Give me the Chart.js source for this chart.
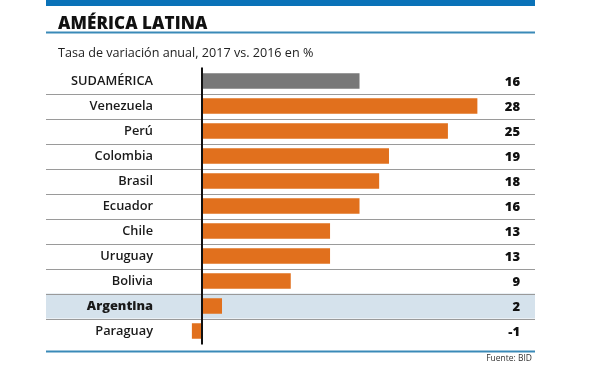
<!DOCTYPE html>
<html>
<head>
<meta charset="utf-8">
<script src="https://cdn.jsdelivr.net/npm/chart.js@4.4.1/dist/chart.umd.min.js"></script>
<style>
  html, body { margin: 0; padding: 0; background: #fff; }
  #wrap { position: relative; width: 600px; height: 365px; overflow: hidden; }
  #c { position: absolute; left: 0; top: 0; }
  .txt { position: absolute; font-family: "Open Sans", sans-serif; white-space: nowrap; }
  #title { left: 58px; top: 11px; font-size: 17px; font-weight: 800; color: #111; letter-spacing: 0.1px; }
  #sub { left: 58px; top: 44px; font-size: 12.6px; color: #222; }
  #src { right: 68px; top: 352px; font-size: 8.5px; color: #333; }
</style>
</head>
<body>
<div id="wrap">
  <canvas id="c" width="600" height="365"></canvas>
  <div class="txt" id="title">AMÉRICA LATINA</div>
  <div class="txt" id="sub">Tasa de variación anual, 2017 vs. 2016 en %</div>
  <div class="txt" id="src">Fuente: BID</div>
</div>
<script>
const categories = ["SUDAMÉRICA", "Venezuela", "Perú", "Colombia", "Brasil", "Ecuador", "Chile", "Uruguay", "Bolivia", "Argentina", "Paraguay"];
const values = [16, 28, 25, 19, 18, 16, 13, 13, 9, 2, -1];
const highlight = "Argentina";
const totalLabel = "SUDAMÉRICA";

const ORANGE = "#e1701d";
const GRAY = "#787878";

const decor = {
  id: "decor",
  beforeDraw(chart) {
    const ctx = chart.ctx;
    const y = chart.scales.y;
    const L = 46, R = 535;
    ctx.save();
    ctx.fillStyle = "#0a72b8";
    ctx.fillRect(L, 0, R - L, 6);
    ctx.fillStyle = "#3a8ab8";
    ctx.fillRect(L, 31.5, R - L, 2);
    const hi = categories.indexOf(highlight);
    const step = y.getPixelForValue(1) - y.getPixelForValue(0);
    const hc = y.getPixelForValue(hi);
    ctx.fillStyle = "#d5e2ec";
    ctx.fillRect(L, hc - step / 2, R - L, step);
    ctx.strokeStyle = "#9a9a9a";
    ctx.lineWidth = 1;
    for (let i = 0; i < categories.length - 1; i++) {
      const yy = Math.round((y.getPixelForValue(i) + y.getPixelForValue(i + 1)) / 2) + 0.5;
      ctx.beginPath();
      ctx.moveTo(L, yy);
      ctx.lineTo(R, yy);
      ctx.stroke();
    }
    const last = y.getPixelForValue(categories.length - 1);
    ctx.fillStyle = "#3a8ab8";
    ctx.fillRect(L, last + step / 2 + 7, R - L, 2);
    ctx.restore();
  },
  afterDatasetsDraw(chart) {
    const ctx = chart.ctx;
    const x = chart.scales.x, y = chart.scales.y;
    const step = y.getPixelForValue(1) - y.getPixelForValue(0);
    ctx.save();
    const x0 = Math.round(x.getPixelForValue(0));
    ctx.strokeStyle = "#111";
    ctx.lineWidth = 2;
    ctx.beginPath();
    ctx.moveTo(x0, y.getPixelForValue(0) - step / 2 - 1);
    ctx.lineTo(x0, y.getPixelForValue(categories.length - 1) + step / 2 + 1);
    ctx.stroke();
    ctx.fillStyle = "#111";
    ctx.font = "800 13px 'Open Sans', sans-serif";
    ctx.textAlign = "right";
    ctx.textBaseline = "middle";
    values.forEach((v, i) => {
      ctx.fillText(String(v), 520, y.getPixelForValue(i) + 1);
    });
    ctx.restore();
  }
};

new Chart(document.getElementById("c"), {
  type: "bar",
  data: {
    labels: categories,
    datasets: [{
      data: values,
      backgroundColor: categories.map(c => c === totalLabel ? GRAY : ORANGE),
      borderWidth: 0,
      barThickness: 15
    }]
  },
  options: {
    indexAxis: "y",
    responsive: false,
    animation: false,
    layout: { padding: { top: 68.5, bottom: 21.5, left: 0, right: 65 } },
    plugins: { legend: { display: false }, tooltip: { enabled: false } },
    scales: {
      x: {
        display: false,
        min: -4.28,
        max: 33.9
      },
      y: {
        grid: { display: false, drawTicks: false },
        border: { display: false },
        afterFit(scale) { scale.width = 160; },
        ticks: {
          padding: 7,
          color: "#1a1a1a",
          font: (ctx) => ({
            family: "'Open Sans', sans-serif",
            size: 12.8,
            weight: categories[ctx.index] === highlight ? "800" : "600"
          })
        }
      }
    }
  },
  plugins: [decor]
});
</script>
</body>
</html>
